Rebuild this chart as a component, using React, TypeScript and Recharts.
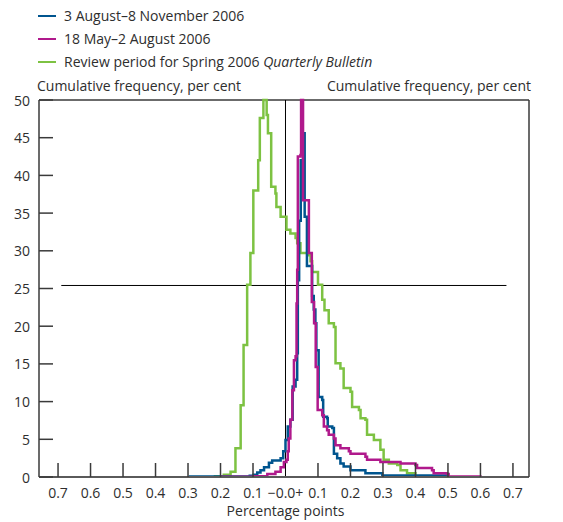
import React from 'react';
import { LineChart, Line, XAxis, YAxis, ReferenceLine } from 'recharts';

const FONT = '"Open Sans", "Noto Sans", sans-serif';
const TEXT = '#2e2e2e';
const AXIS = '#3a3a3a';

const xTicks = [-0.7, -0.6, -0.5, -0.4, -0.3, -0.2, -0.1, 0, 0.1, 0.2, 0.3, 0.4, 0.5, 0.6, 0.7];
const yTicks = [0, 5, 10, 15, 20, 25, 30, 35, 40, 45, 50];

const seriesNames = [
  '3 August\u20138 November 2006',
  '18 May\u20132 August 2006',
  'Review period for Spring 2006 ',
];
const seriesColors = ['#00558f', '#b0198c', '#7dc242'];

// 3 August–8 November 2006 (x: percentage points, signed; y: folded cumulative frequency)
const augNov: [number, number][] = [
  [-0.298, 0.05], [-0.11, 0.15], [-0.098, 0.3], [-0.087, 0.6], [-0.077, 0.9], [-0.066, 1.3],
  [-0.051, 1.9], [-0.041, 2.2], [-0.015, 2.5], [-0.007, 3.4], [0.0, 4.9], [0.007, 6.7],
  [0.015, 7.6], [0.022, 12.0], [0.031, 12.9], [0.036, 16.4], [0.038, 26.1], [0.042, 34.0],
  [0.047, 42.0], [0.054, 45.6], [0.059, 34.5], [0.066, 28.0], [0.082, 24.0], [0.087, 22.2],
  [0.092, 20.4], [0.095, 16.8], [0.102, 10.6], [0.113, 10.2], [0.116, 8.0], [0.128, 7.8],
  [0.13, 6.7], [0.144, 6.5], [0.149, 3.1], [0.159, 2.5], [0.169, 1.8], [0.179, 1.4],
  [0.2, 0.9], [0.246, 0.5], [0.298, 0.2], [0.5, 0],
];

// 18 May–2 August 2006
const mayAug: [number, number][] = [
  [-0.2, 0.02], [-0.098, 0.1], [-0.056, 0.4], [-0.031, 0.7], [-0.015, 1.3], [-0.005, 2.0],
  [0.003, 2.3], [0.007, 3.4], [0.010, 5.1], [0.015, 7.6], [0.021, 11.5], [0.026, 15.5],
  [0.031, 16.0], [0.034, 23.0], [0.036, 27.5], [0.038, 42.5], [0.046, 42.7], [0.048, 50],
  [0.054, 36.7], [0.072, 29.7], [0.081, 23.2], [0.088, 20.4], [0.093, 14.6], [0.099, 8.9],
  [0.113, 8.2], [0.118, 6.7], [0.128, 6.2], [0.133, 5.6], [0.149, 5.1], [0.154, 4.2],
  [0.169, 3.8], [0.195, 3.4], [0.2, 3.1], [0.246, 2.7], [0.251, 2.3], [0.292, 2.0],
  [0.354, 1.8], [0.4, 1.6], [0.405, 1.2], [0.451, 0.9], [0.456, 0.5], [0.497, 0.4],
  [0.502, 0.05], [0.6, 0],
];

// Review period for Spring 2006 Quarterly Bulletin
const spring: [number, number][] = [
  [-0.221, 0.1], [-0.19, 0.3], [-0.169, 0.7], [-0.154, 3.8], [-0.138, 9.5], [-0.129, 17.5],
  [-0.118, 25.5], [-0.108, 29.7], [-0.099, 38.0], [-0.084, 42.0], [-0.079, 47.6], [-0.068, 50],
  [-0.058, 48.0], [-0.054, 45.6], [-0.044, 38.5], [-0.031, 37.6], [-0.028, 35.8], [-0.015, 34.5],
  [0.003, 32.8], [0.015, 32.3], [0.031, 31.7], [0.036, 31.0], [0.046, 29.7], [0.072, 29.4],
  [0.077, 28.6], [0.082, 27.2], [0.1, 25.5], [0.113, 23.5], [0.12, 22.1], [0.133, 20.4],
  [0.149, 19.9], [0.154, 15.1], [0.169, 14.4], [0.179, 11.8], [0.2, 11.3], [0.205, 9.3],
  [0.226, 8.9], [0.231, 7.8], [0.246, 7.6], [0.251, 5.6], [0.272, 4.9], [0.292, 3.6],
  [0.302, 2.3], [0.318, 1.8], [0.344, 1.6], [0.354, 0.9], [0.374, 0.5], [0.4, 0],
];

const quartileLevel = 25.4;
const quartileFrom = -0.69;
const quartileTo = 0.68;

const toRows = (pts: [number, number][]) => pts.map(([x, y]) => ({ x, y }));

const PLOT_LEFT = 39;
const PLOT_RIGHT = 529;
const PLOT_BOTTOM = 477;
const TICK_LEN = 14;

const textStyle = { fontFamily: FONT, fontSize: 14, fill: TEXT };

const LeftTick = (props: any) => {
  const { y, payload } = props;
  return (
    <g>
      <line x1={PLOT_LEFT} x2={PLOT_LEFT + TICK_LEN} y1={y} y2={y} stroke={AXIS} strokeWidth={1.5} />
      <text x={30} y={y} textAnchor="end" dominantBaseline="central" {...textStyle}>
        {payload.value}
      </text>
    </g>
  );
};

const RightTick = (props: any) => {
  const { y, payload } = props;
  return (
    <g>
      <line x1={PLOT_RIGHT - TICK_LEN} x2={PLOT_RIGHT} y1={y} y2={y} stroke={AXIS} strokeWidth={1.5} />
      <text x={560} y={y} textAnchor="end" dominantBaseline="central" {...textStyle}>
        {100 - payload.value}
      </text>
    </g>
  );
};

const fmtX = (v: number) => (Math.abs(v) < 1e-9 ? '\u22120.0+' : Math.abs(v).toFixed(1));

const BottomTick = (props: any) => {
  const { x, payload } = props;
  const isZero = Math.abs(payload.value) < 1e-9;
  return (
    <g>
      {!isZero && (
        <line x1={x} x2={x} y1={PLOT_BOTTOM - TICK_LEN} y2={PLOT_BOTTOM} stroke={AXIS} strokeWidth={1.5} />
      )}
      <text x={x} y={492} textAnchor="middle" dominantBaseline="central" {...textStyle}>
        {fmtX(payload.value)}
      </text>
    </g>
  );
};

const labelDiv = (top: number, left: number, extra: any = {}) => ({
  position: 'absolute' as const,
  top: top - 10,
  left,
  height: 20,
  lineHeight: '20px',
  fontFamily: FONT,
  fontSize: 14,
  color: TEXT,
  whiteSpace: 'nowrap' as const,
  ...extra,
});

export default function App() {
  const rows = [augNov, mayAug, spring];
  return (
    <div style={{ position: 'absolute', left: 0, top: 0, width: 563, height: 522, background: '#fff' }}>
      {seriesNames.map((name, i) => (
        <div key={name}>
          <div
            style={{
              position: 'absolute',
              left: 38,
              top: 16 + i * 23 - 1.25,
              width: 18,
              height: 2.5,
              background: seriesColors[i],
            }}
          />
          <div style={labelDiv(16 + i * 23, 64)}>
            {name}
            {i === 2 && <i>Quarterly Bulletin</i>}
          </div>
        </div>
      ))}
      <div style={labelDiv(86, 37)}>Cumulative frequency, per cent</div>
      <div style={labelDiv(86, 0, { left: undefined, right: 563 - 531, textAlign: 'right' })}>
        Cumulative frequency, per cent
      </div>
      <div style={labelDiv(511, 0, { width: 563, left: 0, textAlign: 'center', paddingLeft: 8, boxSizing: 'border-box' })}>
        Percentage points
      </div>
      <div style={{ position: 'absolute', left: 0, top: 0 }}>
        <LineChart width={563} height={522} margin={{ top: 100, right: 0, bottom: 0, left: 0 }}>
          <XAxis
            type="number"
            dataKey="x"
            domain={[-0.7586, 0.7494]}
            ticks={xTicks}
            interval={0}
            allowDataOverflow
            height={45}
            tick={<BottomTick />}
            tickLine={false}
            axisLine={{ stroke: '#5a5a5a', strokeWidth: 2 }}
          />
          <YAxis
            yAxisId="left"
            type="number"
            domain={[0, 50]}
            ticks={yTicks}
            interval={0}
            width={39}
            tick={<LeftTick />}
            tickLine={false}
            axisLine={{ stroke: AXIS, strokeWidth: 1.5 }}
          />
          <YAxis
            yAxisId="right"
            orientation="right"
            type="number"
            domain={[0, 50]}
            ticks={yTicks}
            interval={0}
            width={34}
            tick={<RightTick />}
            tickLine={false}
            axisLine={{ stroke: AXIS, strokeWidth: 1.5 }}
          />
          <ReferenceLine yAxisId="left" y={50} stroke={AXIS} strokeWidth={1.5} />
          <ReferenceLine yAxisId="left" x={0} stroke="#000" strokeWidth={1} />
          <ReferenceLine
            yAxisId="left"
            segment={[{ x: quartileFrom, y: quartileLevel }, { x: quartileTo, y: quartileLevel }]}
            stroke="#000"
            strokeWidth={1}
          />
          {[2, 0, 1].map((i) => (
            <Line
              key={i}
              yAxisId="left"
              data={toRows(rows[i])}
              dataKey="y"
              type="stepAfter"
              stroke={seriesColors[i]}
              strokeWidth={2.5}
              dot={false}
              activeDot={false}
              isAnimationActive={false}
            />
          ))}
        </LineChart>
      </div>
    </div>
  );
}
